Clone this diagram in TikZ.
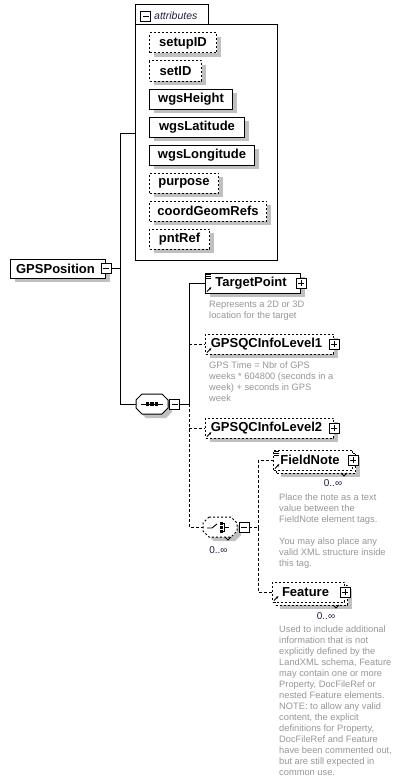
\documentclass[tikz,border=0pt]{standalone}
\usepackage{fontspec}
\setmainfont{Liberation Sans}
\usetikzlibrary{shadows,arrows.meta}
\definecolor{shadowc}{RGB}{192,192,192}
\definecolor{docc}{RGB}{150,150,150}
\definecolor{occc}{RGB}{30,30,70}
\tikzset{
  lbl/.style={font=\fontsize{13}{14}\selectfont\bfseries},
  box/.style={draw, fill=white, line width=1pt, minimum height=20, inner sep=0pt, anchor=west, lbl},
  dbox/.style={box, dash pattern=on 2pt off 2pt},
  shad/.style={drop shadow={shadow xshift=4pt, shadow yshift=-4pt, fill=shadowc, opacity=1}},
  doc/.style={font=\fontsize{9.3}{11}\selectfont, text=docc, align=left, anchor=north west, inner sep=0pt},
  occ/.style={font=\fontsize{10}{11}\selectfont, text=occc, inner sep=0pt},
  conn/.style={line width=1pt},
  dconn/.style={line width=1pt, dash pattern=on 3pt off 2pt},
  minusicon/.style={draw, fill=white, minimum size=10, inner sep=0, line width=0.8pt,
    path picture={\draw[line width=0.8pt] ([xshift=2pt]path picture bounding box.west) -- ([xshift=-2pt]path picture bounding box.east);}},
  plusicon/.style={draw, fill=white, minimum size=10, inner sep=0, line width=0.8pt,
    path picture={\draw[line width=0.8pt] ([xshift=2pt]path picture bounding box.west) -- ([xshift=-2pt]path picture bounding box.east)
      ([yshift=-2pt]path picture bounding box.north) -- ([yshift=2pt]path picture bounding box.south);}},
  refarrow/.style={-{Latex[length=2.5pt,width=2.5pt]}, line width=0.8pt},
}
\newcommand{\refmark}[1]{\draw[refarrow] ([xshift=2pt,yshift=2pt]#1.south west) -- ++(4.5pt,4.5pt);}
\newcommand{\docmark}[1]{\foreach \dy in {1.5,3.5,5.5} \draw[line width=0.7pt] ([xshift=1pt,yshift=-\dy pt]#1.north west) -- ++(5pt,0);}
\begin{document}
\begin{tikzpicture}[x=1pt,y=-1pt]
\useasboundingbox (0,0) rectangle (408,784);

% attributes group
\node[draw, line width=1pt, minimum width=142, minimum height=236, inner sep=0, anchor=north west] (attr) at (135,24) {};
\draw[line width=1pt] (135,24) -- (135,5) -- (208,5) -- (208,24);
\node[minusicon] (attrm) at (145.5,16) {};
\node[anchor=west, inner sep=0, font=\fontsize{10.5}{12}\selectfont\itshape, text=occc] (attrl) at (154,15.5) {attributes};

\node[dbox, shad, minimum width=67] (setupID) at (149,43) {setupID};
\node[dbox, shad, minimum width=52] (setID) at (149,71) {setID};
\node[box, shad, minimum width=83] (wgsHeight) at (149,99) {wgsHeight};
\node[box, shad, minimum width=95] (wgsLatitude) at (149,127) {wgsLatitude};
\node[box, shad, minimum width=105] (wgsLongitude) at (149,155) {wgsLongitude};
\node[dbox, shad, minimum width=69] (purpose) at (149,183) {purpose};
\node[dbox, shad, minimum width=117] (coordGeomRefs) at (149,211) {coordGeomRefs};
\node[dbox, shad, minimum width=60] (pntRef) at (149,239) {pntRef};

% root
\node[box, shad, minimum width=95, minimum height=19] (gps) at (10,268.5) {\hspace*{-5pt}GPSPosition};
\node[minusicon] (gpsm) at (gps.east) {};

% sequence
\node[minimum width=32, minimum height=20, inner sep=0] (seq) at (152,404) {};
\begin{scope}[shift={(seq.center)}]
  \fill[shadowc] (-10,-6) -- (10,-6) -- (20,0) -- (20,8) -- (14,14) -- (-6,14) -- (-12,8) -- cycle;
  \draw[fill=white, line width=1pt] (-10,-10) -- (10,-10) -- (16,-4) -- (16,4) -- (10,10) -- (-10,10) -- (-16,4) -- (-16,-4) -- cycle;
  \draw[line width=1pt] (-11,0) -- (11,0);
  \foreach \x in {-4.5,0,4.5} \fill (\x-1.6,-1.6) rectangle (\x+1.6,1.6);
\end{scope}
\node[minusicon] (seqm) at (174.5,404) {};

% elements
\node[box, shad, minimum width=95] (tp) at (205,283) {\hspace*{-4pt}TargetPoint};
\node[plusicon] (tpp) at (tp.east) {};
\docmark{tp}\refmark{tp}
\node[doc] (tpdoc) at (209,300.5) {Represents a 2D or 3D\\location for the target};

\node[dbox, shad, minimum width=128] (q1) at (205,344) {\hspace*{-6pt}GPSQCInfoLevel1};
\node[plusicon] (q1p) at (q1.east) {};
\refmark{q1}
\node[doc] (q1doc) at (209,361.5) {GPS Time = Nbr of GPS\\weeks * 604800 (seconds in a\\week) + seconds in GPS\\week};

\node[dbox, shad, minimum width=128] (q2) at (205,428) {\hspace*{-6pt}GPSQCInfoLevel2};
\node[plusicon] (q2p) at (q2.east) {};
\refmark{q2}

% choice
\node[minimum width=34, minimum height=20, inner sep=0] (ch) at (220,527) {};
\begin{scope}[shift={(ch.center)}]
  \fill[shadowc] (-8,-6) -- (12,-6) -- (21,0) -- (21,8) -- (15,14) -- (-6,14) -- (-12,8) -- cycle;
  \draw[fill=white, line width=1pt, dash pattern=on 2pt off 2pt] (-11,-10) -- (11,-10) -- (17,-4) -- (17,4) -- (11,10) -- (-11,10) -- (-17,4) -- (-17,-4) -- cycle;
  \draw[line width=0.9pt] (-13,1) -- (-8,1) -- (-3,-3);
  \foreach \y in {-3.5,0.5,4.5} \fill (0,\y-1.3) rectangle (2.6,\y+1.3);
  \draw[line width=0.9pt] (4.5,-3.5) -- (4.5,4.5) (2.6,-3.5) -- (4.5,-3.5) (2.6,4.5) -- (4.5,4.5) (4.5,0.5) -- (9,0.5);
  \draw[line width=0.8pt] (5,10) -- (8,13) -- (11,10);
\end{scope}
\node[minusicon] (chm) at (244,527.5) {};
\node[occ] (chocc) at (218.5,550) {0..∞};

% FieldNote (stacked)
\node[dbox, shad, minimum width=79] (fnback) at (276,463) {};
\node[dbox, minimum width=79] (fn) at (273,460) {\hspace*{-6pt}FieldNote};
\node[plusicon] (fnp) at (fn.east) {};
\docmark{fn}\refmark{fn}
\draw[line width=0.8pt] (341,473) -- (344,476) -- (347,473);
\node[occ] (fnocc) at (333,483.5) {0..∞};
\node[doc] (fndoc) at (279,493.5) {Place the note as a text\\value between the\\FieldNote element tags.\\[11pt]You may also place any\\valid XML structure inside\\this tag.};

% Feature (stacked)
\node[dbox, shad, minimum width=72] (ftback) at (275,595) {};
\node[dbox, minimum width=72] (ft) at (272,592) {\hspace*{-6pt}Feature};
\node[plusicon] (ftp) at (ft.east) {};
\refmark{ft}
\draw[line width=0.8pt] (333,605) -- (336,608) -- (339,605);
\node[occ] (ftocc) at (326,616) {0..∞};
\node[doc] (ftdoc) at (279,625.5) {Used to include additional\\information that is not\\explicitly defined by the\\LandXML schema, Feature\\may contain one or more\\Property, DocFileRef or\\nested Feature elements.\\NOTE: to allow any valid\\content, the explicit\\definitions for Property,\\DocFileRef and Feature\\have been commented out,\\but are still expected in\\common use.};

% connectors
\coordinate (j1) at (120,268.5);
\coordinate (j2) at (189,404);
\coordinate (j3) at (258,527.5);
\draw[conn] (gpsm.east) -- (j1) |- ([yshift=9pt]attr.west);
\draw[conn] (j1) |- (seq.west);
\draw[conn] (seqm.east) -- (j2);
\draw[conn] (j2) |- (tp.west);
\draw[dconn] (j2 |- q1.west) -- (q1.west);
\draw[dconn] (j2 |- q2.west) -- (q2.west);
\draw[dconn] (j2) |- (ch.west);
\draw[dconn] (chm.east) -- (j3);
\draw[dconn] (j3) |- (fn.west);
\draw[dconn] (j3) |- (ft.west);
\end{tikzpicture}
\end{document}
